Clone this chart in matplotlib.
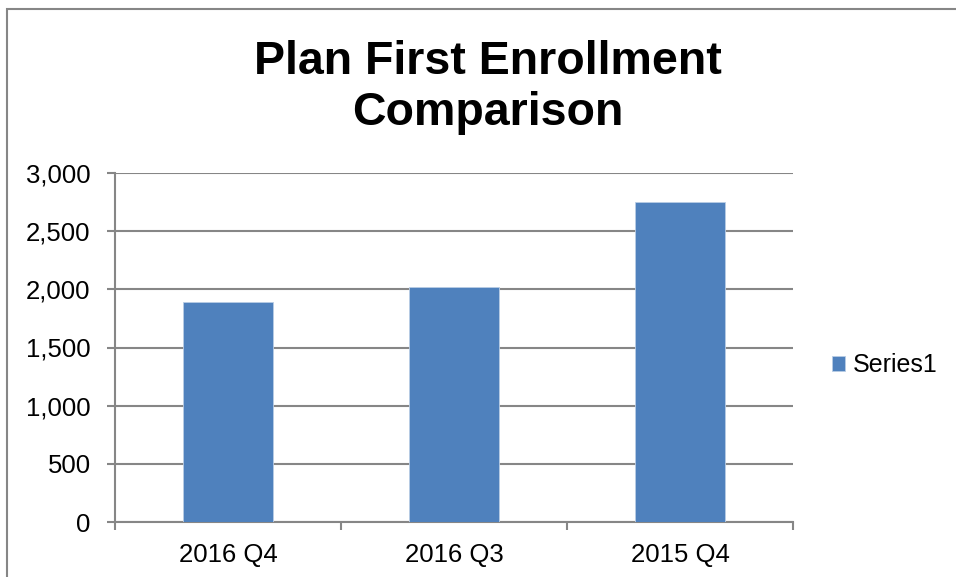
import matplotlib
matplotlib.use("Agg")
import matplotlib.pyplot as plt
from matplotlib.patches import Rectangle

categories = ["2016 Q4", "2016 Q3", "2015 Q4"]
values = [1887, 2024, 2748]
series_name = "Series1"
yticks = [0, 500, 1000, 1500, 2000, 2500, 3000]

plt.rcParams['font.family'] = ['Liberation Sans', 'DejaVu Sans']

W, H = 956, 577
fig = plt.figure(figsize=(W/100, H/100), dpi=100)
fig.patch.set_facecolor('white')

# outer chart border
fig.patches.append(Rectangle((7/W, -0.01), 1.0, (H-9)/H + 0.01, transform=fig.transFigure,
                             fill=False, edgecolor='#868686', linewidth=1.5))

ax = fig.add_axes([115/W, 1-522/H, (793-115)/W, (522-173)/H])
x = list(range(len(categories)))
bars = ax.bar(x, values, width=0.4, color='#4F81BD', edgecolor='#B9CDE5', linewidth=0.6,
              label=series_name, zorder=3)
ax.set_xlim(-0.5, len(categories)-0.5)
ax.set_ylim(0, 3000)
ax.set_yticks(yticks)
ax.set_yticklabels([f"{v:,}" for v in yticks], fontsize=18.5)
ax.yaxis.grid(True, color='#868686', linewidth=1.5, zorder=0)
ax.set_axisbelow(True)

ax.set_xticks(x)
ax.set_xticklabels(categories, fontsize=18.5)
ax.tick_params(axis='x', length=0, pad=15)
ax.set_xticks([-0.5, 0.5, 1.5, 2.5], minor=True)
ax.tick_params(axis='x', which='minor', length=5.5, width=1.5, color='#868686', direction='out')
ax.tick_params(axis='y', length=5.5, width=1.5, color='#868686', direction='out', pad=12)

for s in ['top', 'right']:
    ax.spines[s].set_visible(False)
for s in ['left', 'bottom']:
    ax.spines[s].set_color('#868686')
    ax.spines[s].set_linewidth(1.5)

fig.text(488/W, 1-87.5/H, "Plan First Enrollment\nComparison", ha='center', va='center',
         fontsize=33.5, fontweight='bold', linespacing=1.22)

fig.legend(handles=[bars], labels=[series_name], loc='center left',
           bbox_to_anchor=(814/W, 1-365/H), frameon=False, fontsize=18,
           handlelength=0.55, handleheight=0.55, handletextpad=0.32, borderpad=0.2)

fig.savefig("out.png", dpi=100, facecolor='white')
